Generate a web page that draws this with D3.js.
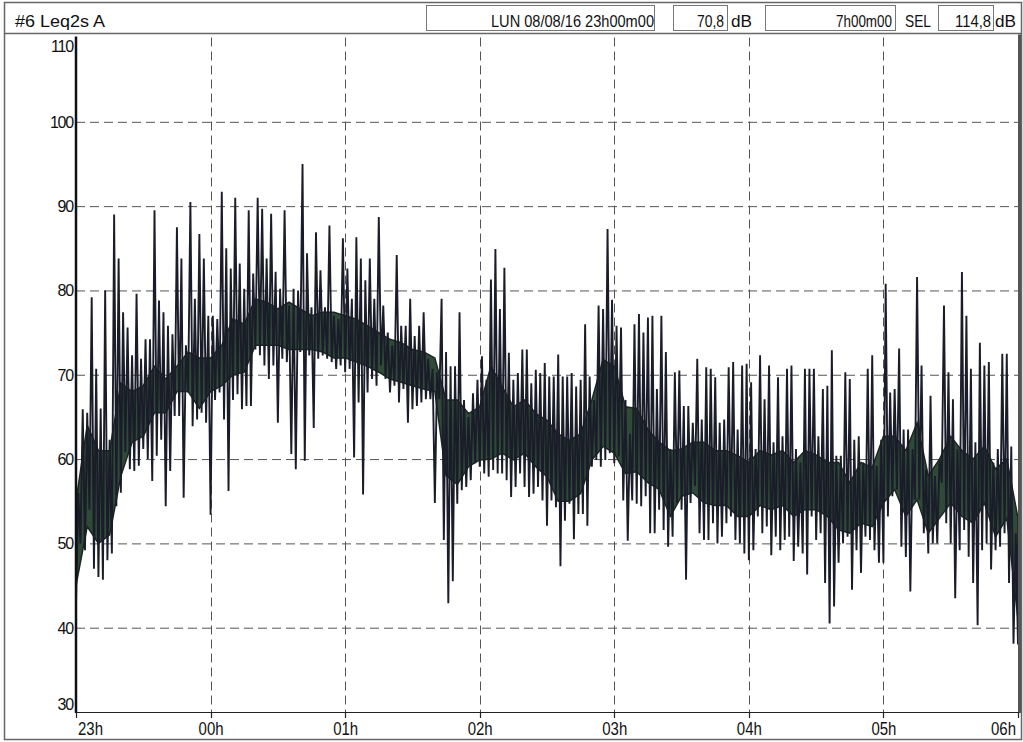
<!DOCTYPE html>
<html>
<head>
<meta charset="utf-8">
<script src="https://cdn.jsdelivr.net/npm/d3@7"></script>
<style>
	body { margin: 0; background: #fff; }
	text { font-family: "Liberation Sans", Arial, sans-serif; fill: #111; }
</style>
</head>
<body>
<svg id="chart" width="1023" height="742"></svg>
<script>

// hour ticks, in minutes after 23h00
var hourTicks = [0, 60, 120, 180, 240, 300, 360, 420];
var hourLabels = ["23h", "00h", "01h", "02h", "03h", "04h", "05h", "06h"];
var yTicks = [30, 40, 50, 60, 70, 80, 90, 100, 110];

// header fields
var titleText = "#6 Leq2s A";
var startText = "LUN 08/08/16 23h00m00";
var leqText = "70,8";
var durationText = "7h00m00";
var selText = "114,8";

// Leq trace: max and min of each 2 minute column (dB)
var traceStep = 2;
var traceHi = [
	56, 65.9, 65.5, 79.2, 70.7, 66, 80, 62.3, 89, 83.8,
	77.4, 75.6, 72.3, 79.6, 71.9, 74.2, 74.2, 89.5, 78.8, 77.4,
	75.8, 74.8, 87.5, 83.8, 73.5, 90.5, 79, 86.7, 83.8, 77,
	77, 76.6, 91.7, 85, 82.6, 91, 83.2, 80.2, 89.5, 82,
	91, 89.7, 83.8, 89.1, 82.2, 80.2, 89.5, 78.2, 80.2, 80,
	95, 84.4, 78, 86.9, 82.4, 78, 87.7, 77, 76.6, 86.2,
	82.6, 79, 86.3, 83.8, 81.2, 83.8, 79, 88.7, 78.2, 75,
	73.5, 84.2, 75.8, 75.8, 79, 74.6, 75.8, 77.4, 71.9, 70.7,
	70.3, 79, 72.7, 71, 71, 77.4, 67, 65, 67.8, 69.4,
	72.2, 69.4, 81.3, 84.9, 77.8, 82.7, 72.6, 69.4, 70.2, 73,
	73, 69, 70.6, 70.2, 71.4, 69.8, 69.8, 72.4, 69.8, 69.8,
	70.2, 68.6, 69.4, 76, 69.8, 67, 78.2, 77.8, 87.3, 78.9,
	75.8, 75.6, 67, 63, 76, 77.2, 75, 76.8, 77, 68.3,
	77, 72.7, 61.2, 70.3, 70.5, 66.3, 66.3, 64.3, 71.9, 64.7,
	70.9, 70.7, 69.7, 64.3, 64.7, 70.9, 71.5, 63.5, 71.1, 71.3,
	69.1, 61.2, 72.3, 67.1, 71.1, 62, 69.7, 62.7, 70.7, 71.1,
	61.2, 59.6, 70.7, 70.7, 70.7, 62.7, 68.3, 68.7, 72.9, 60.4,
	60.4, 70.3, 69.5, 62.3, 62.7, 59.6, 70.7, 72.3, 59.2, 62.3,
	80.8, 67.9, 68.3, 73.1, 63.5, 63.5, 61.2, 81.6, 71.1, 58.8,
	67.5, 58, 60, 78.2, 70.3, 67.1, 61.2, 82.2, 77, 70.7,
	62, 73.8, 71.1, 71.5, 59.6, 61.2, 72.5, 72.5, 61.5, 51.2,
	50
];
var traceLo = [
	43, 50, 49.2, 54, 47, 46, 45.7, 48, 48.8, 54.4,
	56, 60.8, 58.8, 58.6, 59.2, 61.2, 60, 57.4, 60.4, 62.3,
	54.4, 58.6, 65.1, 65.1, 55.4, 67.9, 63.9, 64.7, 65.5, 64.3,
	53.4, 67, 67.9, 64.7, 56.2, 67, 67.7, 65.9, 66.3, 66.3,
	73, 72.3, 71.1, 69.5, 71.1, 64.3, 71.9, 71.5, 60.6, 58.8,
	72.7, 59.8, 72.3, 63.7, 71.9, 72.3, 71.9, 71.5, 70.7, 71.1,
	70.3, 70.7, 60.2, 66.7, 55.8, 67.9, 69.5, 68.7, 71.1, 69.5,
	67.9, 68.7, 66.7, 68.3, 64.3, 65.9, 66.3, 66.7, 67.1, 67.1,
	54.8, 67.1, 50.4, 42.9, 45.5, 54.7, 56.3, 56.7, 57.5, 59.5,
	59.1, 58.3, 57.9, 58.7, 58.3, 58.3, 57.5, 55.5, 56.7, 58.3,
	56.7, 55.5, 55.9, 56.7, 55.1, 52.1, 55.1, 54.3, 47.3, 52.7,
	54.7, 50.5, 53.5, 53.5, 52.1, 59.1, 59.9, 59.1, 59.9, 60.7,
	59.5, 60.3, 55.1, 50.3, 55.1, 54.7, 54.4, 55.6, 51.2, 51.2,
	54, 51.6, 49.6, 50.8, 54.8, 54, 45.7, 54.8, 56.8, 51.2,
	50.4, 50.4, 52.4, 50, 50.8, 52.4, 53.2, 50.4, 50, 48.8,
	48, 49.2, 53.2, 51.2, 52, 48.6, 50.8, 49.2, 50.4, 50.8,
	47.9, 49.6, 48.8, 46.3, 53.2, 50.4, 51.2, 45.3, 40.5, 42.5,
	47.7, 50, 50.8, 44.5, 49.2, 46.5, 50.8, 50.4, 49.2, 47.7,
	47.7, 53.2, 55.6, 56.4, 49.6, 48.4, 44.3, 55.2, 55.2, 51.2,
	48.8, 50, 50, 57.2, 52.4, 50, 43.5, 49.2, 51.6, 48.4,
	45.3, 40.3, 49.2, 50, 46.9, 49.2, 49.6, 51.2, 45.3, 38.1,
	38
];

// dense core of the trace, every 5 minutes (dB)
var coreStep = 5;
var coreHi = [
	55, 64, 61, 61, 69, 68, 68.7, 71, 69.5, 71, 72.7, 72,
	72, 73.5, 76.6, 76, 79, 78.6, 77.8, 78.6, 77.8, 77, 77.4, 77.4,
	77, 76.6, 75.8, 75, 74.2, 73.8, 73, 72.7, 72, 67, 67, 65.4,
	66.2, 71, 68.6, 66.2, 67, 65.4, 64.6, 63, 62.2, 63, 67, 71.8,
	71, 66.2, 66, 63.5, 62, 61, 61.2, 62, 62, 61, 61, 60.4,
	59.6, 61, 60.5, 61, 59.6, 61, 60.5, 59.6, 59.6, 57.2, 59.6, 59,
	62.7, 62.7, 61, 64.3, 58, 60, 62.7, 61, 60, 61.5, 58.8, 60,
	53
];
var coreLo = [
	45, 52, 50, 51, 58, 62, 62.7, 65.5, 65.5, 68, 68, 66,
	68, 68.7, 70, 70.3, 73.5, 73.5, 73.5, 73, 73, 73, 72.7, 72,
	72, 71.5, 71, 70.3, 69.5, 69.1, 68.7, 68.3, 68, 58, 57, 59.1,
	59.9, 60, 60.7, 59.9, 60.7, 59.1, 57.9, 55, 55, 55.9, 59.9, 61.5,
	60.7, 58.3, 58.5, 57.2, 56.4, 53.2, 55.6, 56, 54.8, 54.5, 54.5, 53.2,
	53.2, 54.5, 54, 54.5, 53.2, 54, 54, 53.2, 51.6, 51.2, 52.4, 52,
	54.8, 56.4, 53.2, 55.2, 51.2, 53, 54.8, 53.2, 52.4, 54.8, 50.8, 53,
	41
];

var plotLeft = 76, plotRight = 1018, plotTop = 37.5, plotBottom = 712;

var svg = d3.select("#chart");

var x = d3.scaleLinear().domain([0, 420]).range([plotLeft, plotRight]);
var y = d3.scaleLinear().domain([30, 110]).range([plotBottom, plotTop]);

// outer frame and header
svg.append("rect")
	.attr("x", 4.5).attr("y", 2.5)
	.attr("width", 1017).attr("height", 737)
	.attr("fill", "none").attr("stroke", "#666").attr("stroke-width", 1.5);

svg.append("line")
	.attr("x1", 4.5).attr("x2", 1021.5)
	.attr("y1", 33.5).attr("y2", 33.5)
	.attr("stroke", "#666").attr("stroke-width", 1.5);

var boxes = [[426, 654], [673, 727], [765, 895], [938, 993]];
svg.selectAll("rect.box")
	.data(boxes)
	.enter()
	.append("rect")
	.attr("class", "box")
	.attr("x", function(d){ return d[0] + 0.5; })
	.attr("y", 5.5)
	.attr("width", function(d){ return d[1] - d[0]; })
	.attr("height", 25)
	.attr("fill", "none").attr("stroke", "#777").attr("stroke-width", 1);

// header texts are squeezed to the widths they take in the print
function headText(xpos, len, txt){
	svg.append("text")
		.attr("x", xpos).attr("y", 27)
		.attr("font-size", 17)
		.attr("textLength", len)
		.attr("lengthAdjust", "spacingAndGlyphs")
		.text(txt);
}
headText(15, 90, titleText);
headText(491, 163, startText);
headText(697, 27, leqText);
headText(731, 21, "dB");
headText(836, 56, durationText);
headText(905, 26, "SEL");
headText(955, 36, selText);
headText(995, 21, "dB");

// grid
var grid = svg.append("g");
grid.selectAll("line.hg")
	.data(yTicks.filter(function(d){ return d > 30 && d < 110; }))
	.enter()
	.append("line")
	.attr("x1", plotLeft).attr("x2", plotRight)
	.attr("y1", function(d){ return y(d) + 0.5; })
	.attr("y2", function(d){ return y(d) + 0.5; })
	.attr("stroke", "#555").attr("stroke-width", 1)
	.attr("stroke-dasharray", "9,5");

grid.selectAll("line.vg")
	.data(hourTicks.slice(1, -1))
	.enter()
	.append("line")
	.attr("x1", function(d){ return Math.round(x(d)) + 0.5; })
	.attr("x2", function(d){ return Math.round(x(d)) + 0.5; })
	.attr("y1", plotTop).attr("y2", plotBottom)
	.attr("stroke", "#555").attr("stroke-width", 1)
	.attr("stroke-dasharray", "9,5");

// trace
svg.append("clipPath").attr("id", "plotclip")
	.append("rect")
	.attr("x", plotLeft).attr("y", plotTop)
	.attr("width", plotRight - plotLeft).attr("height", plotBottom - plotTop);

var plot = svg.append("g").attr("clip-path", "url(#plotclip)");

var core = d3.area()
	.x(function(d, i){ return x(i * coreStep); })
	.y0(function(d, i){ return y(coreLo[i]); })
	.y1(function(d){ return y(d); });

plot.append("path")
	.datum(coreHi)
	.attr("d", core)
	.attr("fill", "#2f4b38")
	.attr("stroke", "#1d2620")
	.attr("stroke-width", 1.5);

var pts = [];
traceHi.forEach(function(h, i){
	var t = i * traceStep;
	pts.push([t, traceLo[i]]);
	pts.push([Math.min(t + 1, 420), h]);
});

var trace = d3.line()
	.x(function(d){ return x(d[0]); })
	.y(function(d){ return y(d[1]); });

plot.append("path")
	.datum(pts)
	.attr("d", trace)
	.attr("fill", "none")
	.attr("stroke", "#1a1c29")
	.attr("stroke-width", 1.9)
	.attr("stroke-linejoin", "miter");

// axes
svg.append("line")
	.attr("x1", plotLeft).attr("x2", plotRight)
	.attr("y1", plotBottom + 0.5).attr("y2", plotBottom + 0.5)
	.attr("stroke", "#222").attr("stroke-width", 1);

svg.append("line")
	.attr("x1", plotLeft).attr("x2", plotLeft)
	.attr("y1", plotTop - 1).attr("y2", plotBottom + 1)
	.attr("stroke", "#111").attr("stroke-width", 2.5);

svg.append("line")
	.attr("x1", plotRight + 1.5).attr("x2", plotRight + 1.5)
	.attr("y1", plotTop - 3).attr("y2", plotBottom + 1)
	.attr("stroke", "#555").attr("stroke-width", 3);

svg.selectAll("line.xt")
	.data(hourTicks)
	.enter()
	.append("line")
	.attr("x1", function(d){ return Math.round(x(d)) + 0.5; })
	.attr("x2", function(d){ return Math.round(x(d)) + 0.5; })
	.attr("y1", plotBottom).attr("y2", plotBottom + 6)
	.attr("stroke", "#222").attr("stroke-width", 1.2);

svg.selectAll("text.xl")
	.data(hourTicks)
	.enter()
	.append("text")
	.attr("class", "xl")
	.attr("x", function(d, i){
		if (i == 0) return x(d) + 2;
		if (i == hourTicks.length - 1) return x(d) - 27;
		return x(d) - 12;
	})
	.attr("y", 735)
	.attr("font-size", 19)
	.attr("textLength", 25)
	.attr("lengthAdjust", "spacingAndGlyphs")
	.text(function(d, i){ return hourLabels[i]; });

svg.selectAll("text.yl")
	.data(yTicks)
	.enter()
	.append("text")
	.attr("class", "yl")
	.attr("x", 73)
	.attr("y", function(d, i){
		if (i == 0) return y(d) - 2;
		if (i == yTicks.length - 1) return y(d) + 14;
		return y(d) + 6;
	})
	.attr("text-anchor", "end")
	.attr("font-size", 16).attr("letter-spacing", -1.2)
	.text(function(d){ return d; });

</script>
</body>
</html>
